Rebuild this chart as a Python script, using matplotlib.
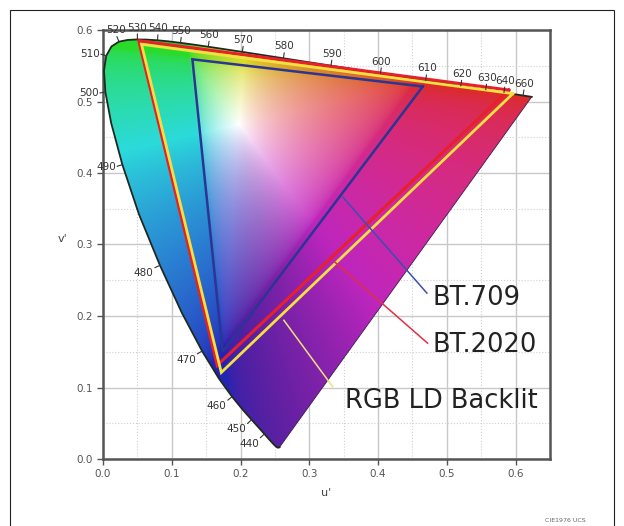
import numpy as np
import matplotlib
matplotlib.use('Agg')
import matplotlib.pyplot as plt
from matplotlib.patches import Polygon, Rectangle
from matplotlib.colors import rgb_to_hsv, hsv_to_rgb

# CIE 1931 2-degree spectral locus (x, y chromaticity)
wl = [380, 385, 390, 395, 400, 405, 410, 415, 420, 425, 430, 435, 440, 445, 450,
      455, 460, 465, 470, 475, 480, 485, 490, 495, 500, 505, 510, 515, 520, 525,
      530, 535, 540, 545, 550, 555, 560, 565, 570, 575, 580, 585, 590, 595, 600,
      605, 610, 615, 620, 625, 630, 635, 640, 645, 650, 655, 660, 665, 670, 680,
      690, 700]
cie_x = [0.1741, 0.1740, 0.1738, 0.1736, 0.1733, 0.1730, 0.1726, 0.1721, 0.1714,
         0.1703, 0.1689, 0.1669, 0.1644, 0.1611, 0.1566, 0.1510, 0.1440, 0.1355,
         0.1241, 0.1096, 0.0913, 0.0687, 0.0454, 0.0235, 0.0082, 0.0039, 0.0139,
         0.0389, 0.0743, 0.1142, 0.1547, 0.1929, 0.2296, 0.2658, 0.3016, 0.3373,
         0.3731, 0.4087, 0.4441, 0.4788, 0.5125, 0.5448, 0.5752, 0.6029, 0.6270,
         0.6482, 0.6658, 0.6801, 0.6915, 0.7006, 0.7079, 0.7140, 0.7190, 0.7230,
         0.7260, 0.7283, 0.7300, 0.7311, 0.7320, 0.7334, 0.7344, 0.7347]
cie_y = [0.0050, 0.0050, 0.0049, 0.0049, 0.0048, 0.0048, 0.0048, 0.0048, 0.0051,
         0.0058, 0.0069, 0.0086, 0.0109, 0.0138, 0.0177, 0.0227, 0.0297, 0.0399,
         0.0578, 0.0868, 0.1327, 0.2007, 0.2950, 0.4127, 0.5384, 0.6548, 0.7502,
         0.8120, 0.8338, 0.8262, 0.8059, 0.7816, 0.7543, 0.7243, 0.6923, 0.6589,
         0.6245, 0.5896, 0.5547, 0.5202, 0.4866, 0.4544, 0.4242, 0.3965, 0.3725,
         0.3514, 0.3340, 0.3197, 0.3083, 0.2993, 0.2920, 0.2859, 0.2809, 0.2770,
         0.2740, 0.2717, 0.2700, 0.2689, 0.2680, 0.2666, 0.2656, 0.2653]

label_wl = [440, 450, 460, 470, 480, 490, 500, 510, 520, 530, 540, 550, 560, 570,
            580, 590, 600, 610, 620, 630, 640, 660]

# gamut triangles (u', v'): R, G, B
bt709_u = [0.465, 0.130, 0.174]
bt709_v = [0.521, 0.559, 0.150]
bt2020_u = [0.590, 0.052, 0.166]
bt2020_v = [0.516, 0.585, 0.131]
ld_u = [0.596, 0.056, 0.172]
ld_v = [0.511, 0.580, 0.121]

# annotation labels and leader lines
names = ['BT.709', 'BT.2020', 'RGB LD Backlit']
name_u = [0.479, 0.479, 0.3515]
name_v = [0.225, 0.159, 0.081]
lead_u0 = [0.349, 0.337, 0.263]
lead_v0 = [0.366, 0.2755, 0.194]
lead_u1 = [0.471, 0.472, 0.334]
lead_v1 = [0.232, 0.162, 0.101]

# ---------------------------------------------------------------
cx = np.array(cie_x); cy = np.array(cie_y)
den = -2 * cx + 12 * cy + 3
lu = 4 * cx / den
lv = 9 * cy / den

fig = plt.figure(figsize=(6.24, 5.26), dpi=100)
ax = fig.add_axes([103 / 624, 1 - 459 / 526, (550 - 103) / 624, (459 - 30) / 526])

# colour fill of the diagram
nu, nv = 500, 470
uu, vv = np.meshgrid(np.linspace(0, 0.65, nu), np.linspace(0, 0.6, nv))
d = 6 * uu - 16 * vv + 12
xx = 9 * uu / d
yy = np.maximum(4 * vv / d, 1e-6)
X = xx / yy
Y = np.ones_like(X)
Z = (1 - xx - yy) / yy
M = np.array([[3.2406, -1.5372, -0.4986],
              [-0.9689, 1.8758, 0.0415],
              [0.0557, -0.2040, 1.0570]])
rgb = np.einsum('ij,jkl->kli', M, np.stack([X, Y, Z]))
rgb = np.clip(rgb, 0, None)
rgb = rgb / np.maximum(rgb.max(axis=2, keepdims=True), 1e-9)
rgb = np.where(rgb <= 0.0031308, 12.92 * rgb, 1.055 * rgb ** (1 / 2.4) - 0.055)
rgb = np.clip(rgb, 0, 1)
hsv = rgb_to_hsv(rgb)
h = hsv[..., 0]
s = hsv[..., 1]
purple_w = np.exp(-((h - 0.74) / 0.12) ** 2)
hsv[..., 2] = hsv[..., 2] * (1 - s * (0.14 + 0.22 * purple_w))
hsv[..., 1] = s * 0.8
rgb = hsv_to_rgb(hsv)

poly = Polygon(np.column_stack([lu, lv]), closed=True, facecolor='none',
               edgecolor='none')
ax.add_patch(poly)
im = ax.imshow(rgb, origin='lower', extent=[0, 0.65, 0, 0.6], aspect='auto',
               interpolation='bilinear', zorder=2)
im.set_clip_path(poly)
ax.plot(lu, lv, color='#1e2a20', lw=1.3, zorder=3)
ax.plot([lu[-1], lu[0]], [lv[-1], lv[0]], color='#3a1a50', lw=0.6, zorder=3)

# triangles
def tri(us, vs, color, lw, z):
    ax.plot(us + [us[0]], vs + [vs[0]], color=color, lw=lw, zorder=z,
            solid_joinstyle='miter')

tri(bt2020_u, bt2020_v, '#e8202a', 2.2, 4)
tri(ld_u, ld_v, '#f4e040', 2.0, 5)
tri(bt709_u, bt709_v, '#2a3594', 1.8, 6)

# leader lines
lead_col = ['#3a50b0', '#e03040', '#efe080']
for i in range(3):
    ax.plot([lead_u0[i], lead_u1[i]], [lead_v0[i], lead_v1[i]],
            color=lead_col[i], lw=1.1, zorder=7)
    ax.text(name_u[i], name_v[i], names[i], fontsize=18.5, color='#222222',
            va='center', ha='left', zorder=8)

# wavelength labels
for w in label_wl:
    i = wl.index(w)
    du = lu[i + 1] - lu[i - 1]
    dv = lv[i + 1] - lv[i - 1]
    n = np.hypot(du, dv)
    nx, ny = -dv / n, du / n
    ax.annotate('', xy=(lu[i], lv[i]), xytext=(nx * 4, ny * 4),
                textcoords='offset points',
                arrowprops=dict(arrowstyle='-', color='#333333', lw=0.8,
                                shrinkA=0, shrinkB=0), zorder=6)
    ha = 'right' if nx < -0.4 else ('left' if nx > 0.4 else 'center')
    va = 'top' if ny < -0.4 else ('bottom' if ny > 0.4 else 'center')
    ax.annotate(str(w), xy=(lu[i], lv[i]), xytext=(nx * 5, ny * 5),
                textcoords='offset points', ha=ha, va=va, fontsize=7.5,
                color='#333333', zorder=6, annotation_clip=False)

ax.set_xlim(0, 0.65)
ax.set_ylim(0, 0.6)
ax.set_xticks(np.arange(0, 0.61, 0.1))
ax.set_yticks(np.arange(0, 0.61, 0.1))
ax.set_xticks(np.arange(0.05, 0.65, 0.1), minor=True)
ax.set_yticks(np.arange(0.05, 0.6, 0.1), minor=True)
ax.set_xticklabels(['%.1f' % t for t in np.arange(0, 0.61, 0.1)])
ax.set_yticklabels(['%.1f' % t for t in np.arange(0, 0.61, 0.1)])
ax.grid(True, which='major', color='#c8c8c8', lw=1.0, zorder=0)
ax.grid(True, which='minor', color='#d0d0d0', lw=0.8, ls=':', zorder=0)
ax.set_axisbelow(True)
ax.tick_params(which='major', length=4, width=1, color='#555555',
               labelsize=7.5, labelcolor='#555555', direction='out')
ax.tick_params(which='minor', length=0)
for sp in ax.spines.values():
    sp.set_color('#555555')
    sp.set_linewidth(1.8)
ax.set_xlabel("u'", fontsize=8, color='#444444', labelpad=6)
ax.set_ylabel("v'", fontsize=8, color='#444444', rotation=0, labelpad=10)

fig.patches.append(Rectangle((10 / 624, -0.02), (614 - 10) / 624, 1.02 - 10 / 526,
                             transform=fig.transFigure, fill=False,
                             edgecolor='#222222', lw=0.8))
fig.text(565 / 624, 1 - 521 / 526, 'CIE1976 UCS', fontsize=4.5, color='#666666',
         ha='center', va='center')

fig.savefig('out.png', dpi=100)
